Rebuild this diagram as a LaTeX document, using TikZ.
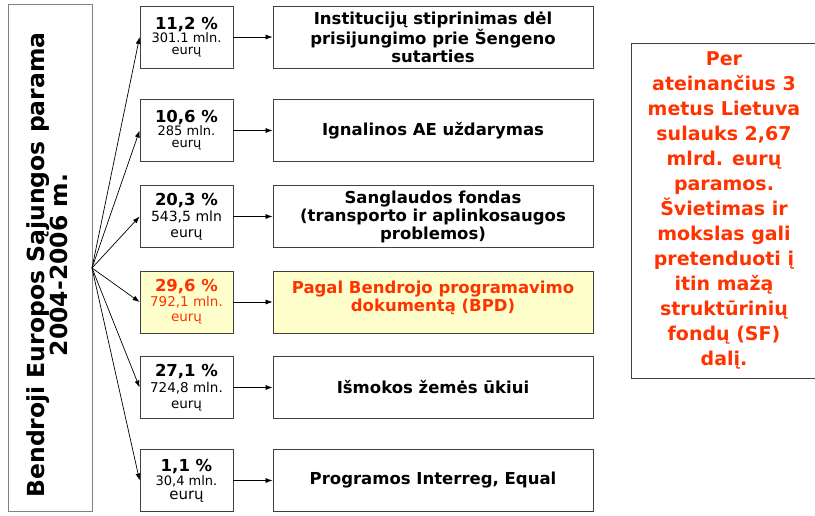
\documentclass[tikz,border=0pt]{standalone}
\usepackage{fontspec}
\setmainfont{DejaVu Sans}
\usetikzlibrary{arrows.meta,shapes,backgrounds}
\definecolor{bpdred}{RGB}{255,51,0}
\definecolor{bpdfill}{RGB}{255,255,204}
\newcommand{\share}[1]{{\bfseries\fontsize{16.5}{18}\selectfont #1}}

\begin{document}
\begin{tikzpicture}[x=1pt,y=-1pt,
	pct/.style={draw=black!75,line width=0.8pt,minimum width=93pt,minimum height=62pt,inner sep=0pt,align=center,font=\fontsize{13}{12}\selectfont},
	goal/.style={draw=black!75,line width=0.8pt,minimum width=320pt,minimum height=62pt,inner sep=0pt,align=center,font=\bfseries\fontsize{16.5}{18}\selectfont},
	fan/.style={line width=0.7pt,-{Latex[length=7pt,width=5pt]}}]
	\useasboundingbox (0,0) rectangle (815,515);
	% left title
	\node [draw=black!50,line width=0.8pt,minimum width=84pt,minimum height=507pt,inner sep=0pt] (t) at (50,257.5) {};
	\node [rotate=90,align=center,font=\bfseries\fontsize{23.5}{19}\selectfont] (tt) at (47,265) {Bendroji Europos Sąjungos parama\\2004-2006 m.};
	\coordinate (src) at (92,268);
	% shares
	\node [pct] (p0) at (186.5,37) {\share{11,2 \%}\\301.1 mln.\\eurų};
	\node [pct] (p1) at (186.5,130.5) {\share{10,6 \%}\\285 mln.\\eurų};
	\node [pct,font=\fontsize{14}{16}\selectfont] (p2) at (186.5,216.5) {\share{20,3 \%}\\543,5 mln\\eurų};
	\node [pct,fill=bpdfill,text=bpdred,font=\fontsize{13.5}{15}\selectfont] (p3) at (186.5,302) {\share{29,6 \%}\\792,1 mln.\\eurų};
	\node [pct,font=\fontsize{13.5}{16}\selectfont] (p4) at (186.5,387.5) {\share{27,1 \%}\\724,8 mln.\\eurų};
	\node [pct,font=\fontsize{13}{14}\selectfont] (p5) at (186.5,480.5) {\share{1,1 \%}\\30,4 mln.\\{\fontsize{15}{17}\selectfont eurų}};
	% targets
	\node [goal] (g0) at (433,37) {Institucijų stiprinimas dėl\\prisijungimo prie Šengeno\\sutarties};
	\node [goal] (g1) at (433,130.5) {Ignalinos AE uždarymas};
	\node [goal] (g2) at (433,216.5) {Sanglaudos fondas\\(transporto ir aplinkosaugos\\problemos)};
	\node [goal,fill=bpdfill,text=bpdred] (g3) at (433,302) {Pagal Bendrojo programavimo\\dokumentą (BPD)\\[-6pt]\mbox{}};
	\node [goal] (g4) at (433,387.5) {Išmokos žemės ūkiui};
	\node [goal] (g5) at (433,480.5) {Programos Interreg, Equal};
	\foreach \i in {0,...,5} {
		\draw [fan] (src) -- (p\i.west);
		\draw [fan] (p\i.east) -- (g\i.west);
	}
	% note
	\node [draw=black!75,line width=0.8pt,minimum width=186pt,minimum height=335pt,inner sep=0pt,align=center,text=bpdred,font=\bfseries\fontsize{19}{25}\selectfont] (note) at (724,210.5) {Per\\ateinančius 3\\metus Lietuva\\sulauks 2,67\\mlrd. eurų\\paramos.\\Švietimas ir\\mokslas gali\\pretenduoti į\\itin mažą\\struktūrinių\\fondų (SF)\\dalį.};
\end{tikzpicture}
\end{document}
